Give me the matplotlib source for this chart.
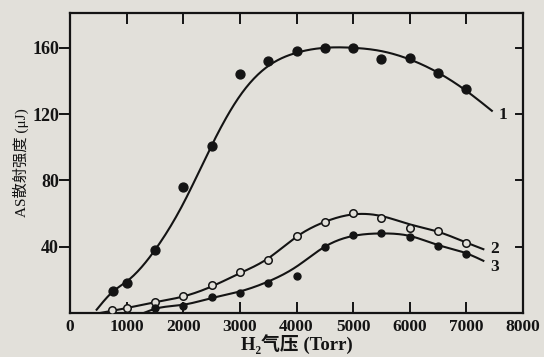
import numpy as np
import matplotlib
matplotlib.use("Agg")
import matplotlib.pyplot as plt

# ---- data ----
pressure1 = [760, 1000, 1500, 2000, 2500, 3000, 3500, 4000, 4500, 5000, 5500, 6000, 6500, 7000]
as1 = [13, 18, 38, 76, 101, 144, 152, 158, 160, 160, 153, 154, 145, 135]

pressure2 = [740, 1000, 1500, 2000, 2500, 3000, 3500, 4000, 4500, 5000, 5500, 6000, 6500, 7000]
as2 = [2, 3, 6.7, 10, 17, 25, 32, 46.7, 55, 60.5, 57.5, 51.5, 49.7, 42.4]

pressure3 = [1500, 2000, 2500, 3000, 3500, 4000, 4500, 5000, 5500, 6000, 6500, 7000]
as3 = [3, 4.2, 9.7, 12, 18, 22.4, 40, 47, 48.5, 46, 40.6, 35.8]

# fitted curves (knots)
fit1_x = [470, 760, 1000, 1500, 2000, 2500, 3000, 3500, 4000, 4500, 5000, 5500, 6000, 6500, 7000, 7450]
fit1_y = [2, 13, 19, 38, 66, 101, 131, 149, 157, 160, 160, 158, 153, 145, 134, 122]
fit2_x = [530, 1000, 1500, 2000, 2500, 3000, 3500, 4000, 4500, 5000, 5500, 6000, 6500, 7000, 7300]
fit2_y = [0, 3, 6.5, 10, 16, 24, 33, 46, 55, 59.5, 58.5, 53.5, 49, 42.5, 38.5]
fit3_x = [1300, 1500, 2000, 2500, 3000, 3500, 4000, 4500, 5000, 5500, 6000, 6500, 7000, 7300]
fit3_y = [0, 2.5, 5, 9, 13, 19, 28, 40, 46.5, 48, 46.5, 41, 36, 31.5]

curve_labels = ["1", "2", "3"]
xticks = [0, 1000, 2000, 3000, 4000, 5000, 6000, 7000, 8000]
yticks = [40, 80, 120, 160]
xlabel = "H₂气压 (Torr)"
ylabel = "AS散射强度 (μJ)"


def smooth(xk, yk, n=300):
    """natural cubic spline through the knots, for drawing only"""
    x = np.asarray(xk, float)
    y = np.asarray(yk, float)
    m = len(x)
    h = np.diff(x)
    A = np.zeros((m, m))
    b = np.zeros(m)
    A[0, 0] = A[-1, -1] = 1
    for i in range(1, m - 1):
        A[i, i - 1] = h[i - 1]
        A[i, i] = 2 * (h[i - 1] + h[i])
        A[i, i + 1] = h[i]
        b[i] = 6 * ((y[i + 1] - y[i]) / h[i] - (y[i] - y[i - 1]) / h[i - 1])
    M = np.linalg.solve(A, b)
    xs = np.linspace(x[0], x[-1], n)
    idx = np.clip(np.searchsorted(x, xs) - 1, 0, m - 2)
    x0, x1 = x[idx], x[idx + 1]
    hh = x1 - x0
    t0, t1 = x1 - xs, xs - x0
    ys = (M[idx] * t0 ** 3 + M[idx + 1] * t1 ** 3) / (6 * hh) \
        + (y[idx] / hh - M[idx] * hh / 6) * t0 + (y[idx + 1] / hh - M[idx + 1] * hh / 6) * t1
    return xs, ys


bg = "#e2e0da"
ink = "#141414"
serif = ["Liberation Serif", "DejaVu Serif"]
mixed = ["Liberation Serif", "Noto Sans CJK SC", "DejaVu Sans"]
plt.rcParams["font.family"] = mixed

fig = plt.figure(figsize=(5.44, 3.57), dpi=100, facecolor=bg)
ax = fig.add_axes([0.1287, 0.1232, 0.8327, 0.8404], facecolor=bg)

lw = 1.5
for fx, fy in [(fit1_x, fit1_y), (fit2_x, fit2_y), (fit3_x, fit3_y)]:
    xs, ys = smooth(fx, fy)
    ax.plot(xs, ys, color=ink, lw=lw, zorder=2)

ax.plot(pressure1, as1, "o", ms=6.4, color=ink, zorder=3)
ax.plot(pressure2, as2, "o", ms=5.4, mfc=bg, mec=ink, mew=1.1, zorder=3)
ax.plot(pressure3, as3, "o", ms=5.0, color=ink, zorder=3)

ax.text(7560, 119.5, curve_labels[0], fontsize=12.5, fontweight="bold", family=serif, color=ink, va="center")
ax.text(7420, 38.5, curve_labels[1], fontsize=12.5, fontweight="bold", family=serif, color=ink, va="center")
ax.text(7420, 28, curve_labels[2], fontsize=12.5, fontweight="bold", family=serif, color=ink, va="center")

ax.set_xlim(0, 8000)
ax.set_ylim(0, 181)
ax.set_xticks(xticks)
ax.set_xticklabels([str(v) for v in xticks], fontsize=12.5, fontweight="bold", family=serif, color=ink)
ax.set_yticks(yticks)
ax.set_yticklabels([str(v) for v in yticks], fontsize=13, fontweight="bold", family=serif, color=ink)

ax.tick_params(axis="x", which="both", direction="in", top=True, bottom=True, length=8, width=1.4, color=ink, pad=4)
ax.tick_params(axis="y", which="both", direction="out", left=True, length=8, width=1.4, color=ink, pad=0)
# right side inward ticks
for v in yticks:
    ax.plot([1.0, 0.985], [v, v], transform=ax.get_yaxis_transform(), color=ink, lw=1.4, clip_on=False)

for s in ax.spines.values():
    s.set_linewidth(1.6)
    s.set_color(ink)

ax.set_xlabel(xlabel, fontsize=13.5, family=mixed, fontweight="bold", color=ink, labelpad=0)
ax.set_ylabel(ylabel, fontsize=11, family=mixed, color=ink, labelpad=2)

fig.savefig("out.png", dpi=100, facecolor=bg)
